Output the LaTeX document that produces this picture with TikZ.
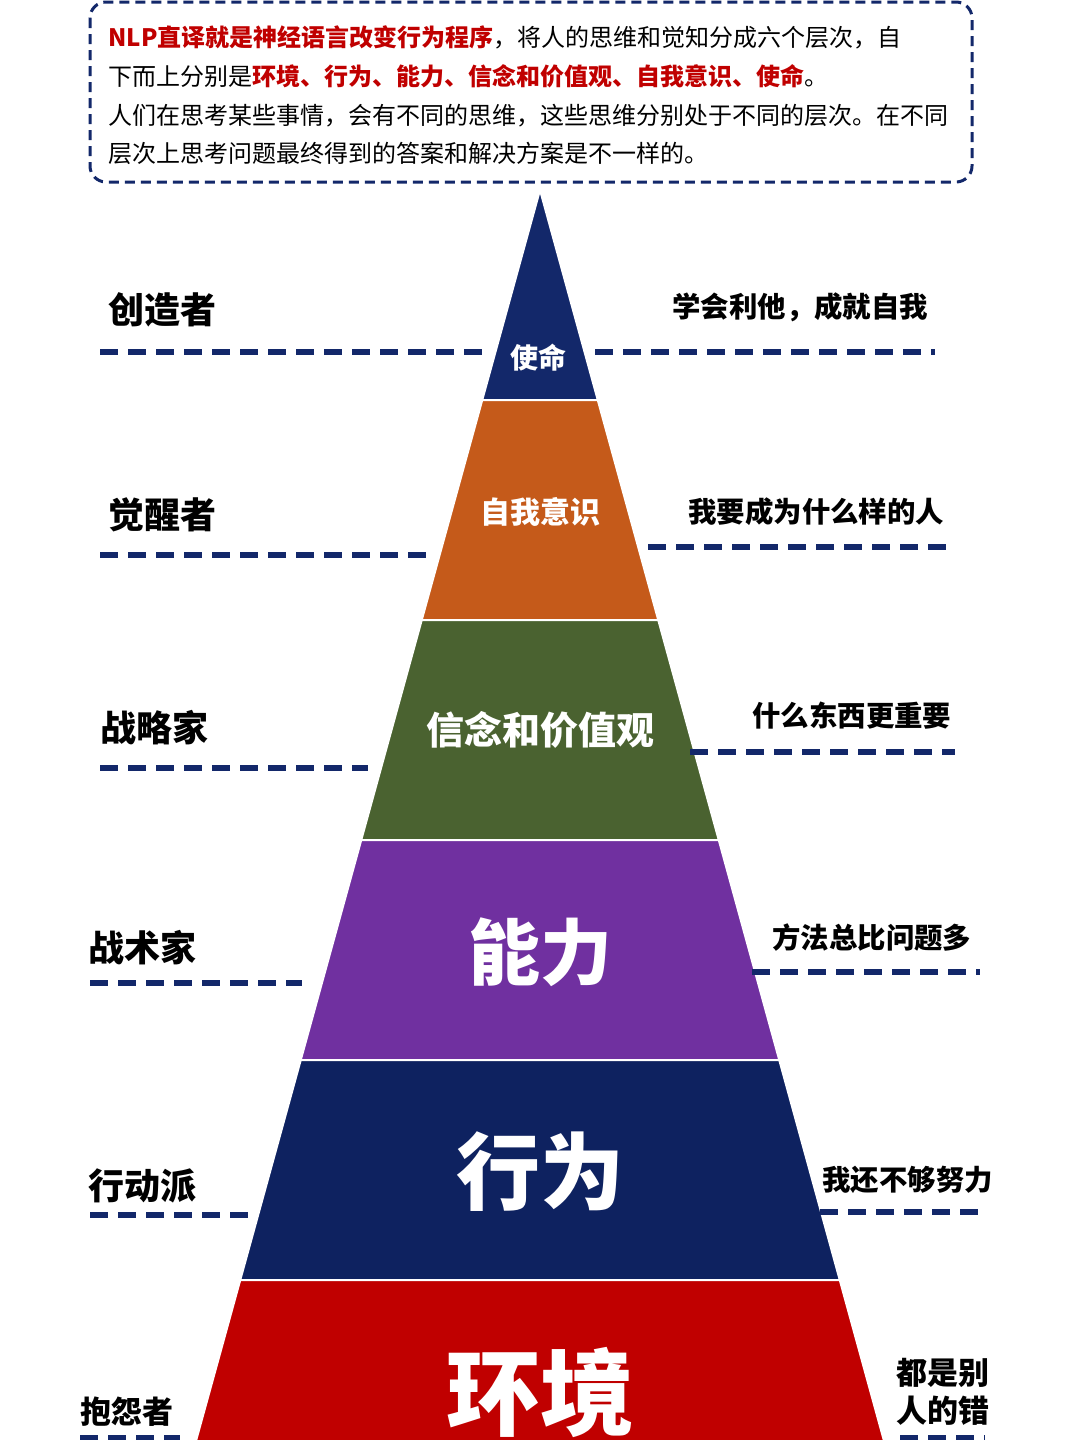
\documentclass[tikz,border=0pt]{standalone}
\usepackage{fontspec}
\usepackage{xcolor}
\usetikzlibrary{positioning}
\newfontfamily\cjk{Noto Sans CJK SC}
\definecolor{navy}{HTML}{13286A}
\definecolor{deepnavy}{HTML}{0E2260}
\definecolor{ochre}{HTML}{C55A1A}
\definecolor{olive}{HTML}{4A6230}
\definecolor{violet}{HTML}{7030A0}
\definecolor{crimson}{HTML}{C00000}
\tikzset{
  role/.style={anchor=west, font=\cjk\bfseries\fontsize{18}{20}\selectfont, inner sep=0},
  motto/.style={anchor=west, font=\cjk\bfseries\fontsize{14.2}{16}\selectfont, inner sep=0, align=left},
  layer/.style={text=white, font=\cjk\bfseries, inner sep=0},
  guide/.style={draw=navy, line width=3pt, dash pattern=on 9pt off 5pt},
  intro/.style={anchor=west, font=\cjk\fontsize{12}{14}\selectfont, inner sep=0}
}
\begin{document}
\begin{tikzpicture}[x=0.5pt,y=-0.5pt]
\useasboundingbox (0,0) rectangle (1080,1440);
\clip (0,0) rectangle (1080,1440);
% intro box
\draw[navy, line width=1.5pt, dash pattern=on 5pt off 3pt, rounded corners=8pt] (90,2) rectangle (972,182);
\node[intro] (l1) at (108,37) {\textcolor{crimson}{\bfseries NLP直译就是神经语言改变行为程序}，将人的思维和觉知分成六个层次，自};
\node[intro] (l2) at (108,76) {下而上分别是\textcolor{crimson}{\bfseries 环境、行为、能力、信念和价值观、自我意识、使命}。};
\node[intro] (l3) at (108,116) {人们在思考某些事情，会有不同的思维，这些思维分别处于不同的层次。在不同};
\node[intro] (l4) at (108,153) {层次上思考问题最终得到的答案和解决方案是不一样的。};
% pyramid layers: top, bottom, colour
\foreach \t/\b/\c in {190/400/navy, 400/620/ochre, 620/840/olive, 840/1060/violet, 1060/1280/deepnavy, 1280/1500/crimson}{
  \pgfmathsetmacro\wt{(\t-190)*0.275}
  \pgfmathsetmacro\wb{(\b-190)*0.275}
  \fill[\c, draw=white, line width=1pt] (540-\wt,\t) -- (540+\wt,\t) -- (540+\wb,\b) -- (540-\wb,\b) -- cycle;
}
\node[layer, font=\cjk\bfseries\fontsize{14}{16}\selectfont] (mission) at (538,358) {使命};
\node[layer, font=\cjk\bfseries\fontsize{15}{18}\selectfont] (self) at (540,512) {自我意识};
\node[layer, font=\cjk\bfseries\fontsize{19}{22}\selectfont] (belief) at (540,730) {信念和价值观};
\node[layer, font=\cjk\bfseries\fontsize{36}{40}\selectfont] (ability) at (540,952) {能力};
\node[layer, font=\cjk\bfseries\fontsize{42}{46}\selectfont] (behave) at (540,1172) {行为};
\node[layer, font=\cjk\bfseries\fontsize{47}{50}\selectfont] (envir) at (540,1392) {环境};
% guide lines
\draw[guide] (100,352) -- (485,352);  \draw[guide] (595,352) -- (935,352);
\draw[guide] (100,555) -- (432,555);  \draw[guide] (648,547) -- (948,547);
\draw[guide] (100,768) -- (368,768);  \draw[guide] (690,752) -- (955,752);
\draw[guide] (90,983) -- (302,983);   \draw[guide] (752,972) -- (980,972);
\draw[guide] (90,1215) -- (255,1215); \draw[guide] (820,1212) -- (980,1212);
\draw[guide] (80,1438) -- (180,1438); \draw[guide] (900,1438) -- (985,1438);
% roles
\node[role] (creator) at (108,310) {创造者};
\node[role] (awake) at (108,515) {觉醒者};
\node[role] (strat) at (100,728) {战略家};
\node[role] (tact) at (88,948) {战术家};
\node[role] (doer) at (88,1186) {行动派};
\node[role, font=\cjk\bfseries\fontsize{15.5}{18}\selectfont] (moan) at (80,1412) {抱怨者};
% mottos
\node[motto] (m1) at (672,307) {学会利他，成就自我};
\node[motto] (m2) at (688,512) {我要成为什么样的人};
\node[motto] (m3) at (752,716) {什么东西更重要};
\node[motto] (m4) at (772,938) {方法总比问题多};
\node[motto] (m5) at (822,1180) {我还不够努力};
\node[motto, font=\cjk\bfseries\fontsize{15.5}{19}\selectfont] (m6) at (896,1392) {都是别\\人的错};
\end{tikzpicture}
\end{document}
